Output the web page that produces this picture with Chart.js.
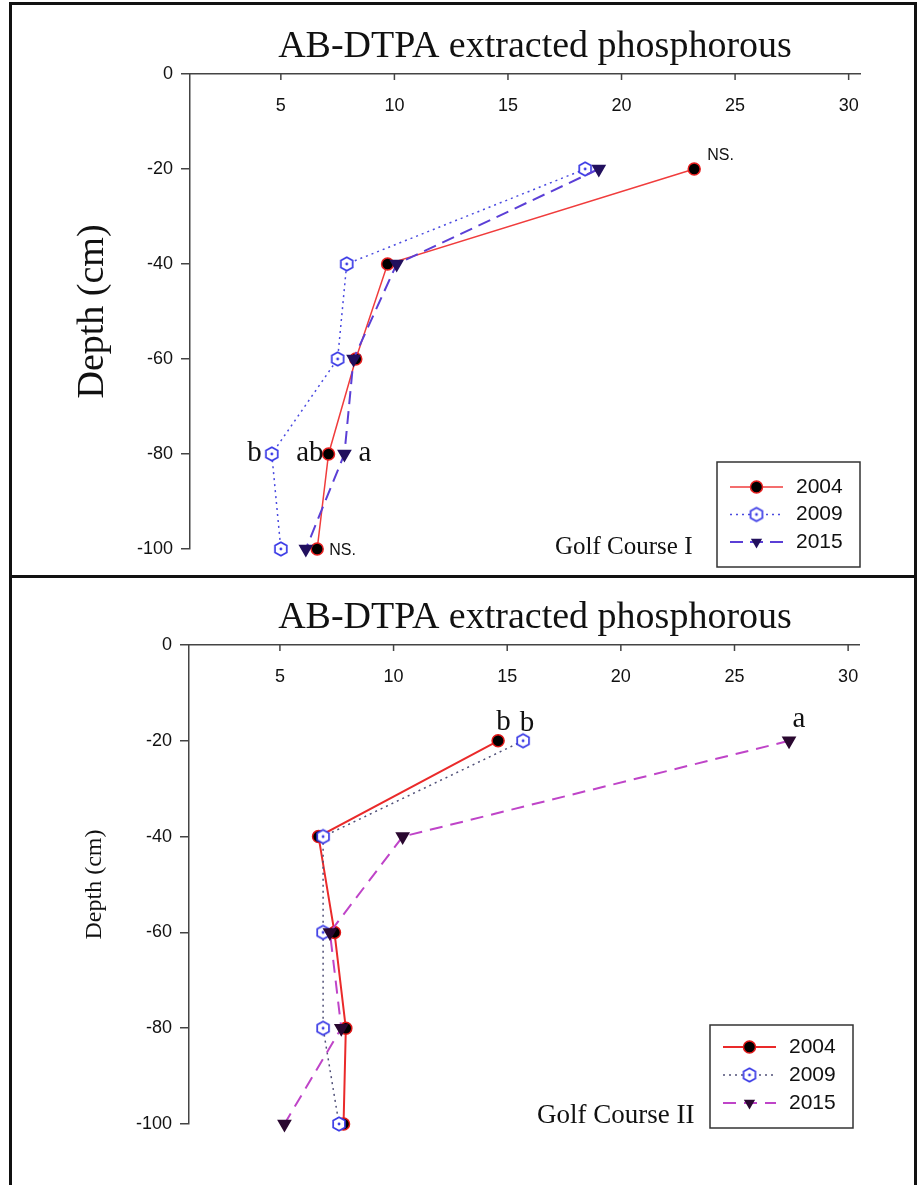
<!DOCTYPE html>
<html>
<head>
<meta charset="utf-8">
<script src="https://cdn.jsdelivr.net/npm/chart.js@4.4.1/dist/chart.umd.min.js"></script>
<style>
  body { margin: 0; background: #fff; }
  #page { position: relative; width: 917px; height: 1185px; overflow: hidden; background: #fff; }
  canvas { position: absolute; left: 0; }
  #c1 { top: 0; }
  #c2 { top: 579px; }
  .frame { position: absolute; left: 9px; top: 2px; width: 902px; height: 1200px; border: 3px solid #111; border-bottom: none; }
  .sep { position: absolute; left: 9px; top: 575px; width: 908px; height: 3px; background: #111; }
</style>
</head>
<body>
<div id="page">
  <canvas id="c1" width="917" height="576"></canvas>
  <canvas id="c2" width="917" height="606"></canvas>
  <div class="frame"></div>
  <div class="sep"></div>
</div>
<script>
// depth of each sampling layer (cm) and the axis ticks
const depths = [-20, -40, -60, -80, -100];
const years = ['2004', '2009', '2015'];
const xTicks = [5, 10, 15, 20, 25, 30];
const yTicks = [0, -20, -40, -60, -80, -100];

// Golf Course I - AB-DTPA P
const gc1_2004 = [23.2, 9.7, 8.3, 7.1, 6.6];
const gc1_2009 = [18.4, 7.9, 7.5, 4.6, 5.0];
const gc1_2015 = [19.0, 10.1, 8.2, 7.8, 6.1];

// Golf Course II - AB-DTPA P
const gc2_2004 = [14.6, 6.7, 7.4, 7.9, 7.8];
const gc2_2009 = [15.7, 6.9, 6.9, 6.9, 7.6];
const gc2_2015 = [27.4, 10.4, 7.2, 7.7, 5.2];

const SERIF = '"Liberation Serif", "Times New Roman", serif';
const SANS = '"Liberation Sans", Arial, sans-serif';
Chart.defaults.font.family = SANS;
Chart.defaults.color = '#111';

function hexMarker(color) {
  const c = document.createElement('canvas');
  c.width = 18; c.height = 18;
  const g = c.getContext('2d');
  g.beginPath();
  for (let i = 0; i < 6; i++) {
    const a = Math.PI / 3 * i - Math.PI / 2;
    const px = 9 + 6.8 * Math.cos(a), py = 9 + 6.8 * Math.sin(a);
    if (i) g.lineTo(px, py); else g.moveTo(px, py);
  }
  g.closePath();
  g.fillStyle = '#fff'; g.fill();
  g.lineWidth = 1.7; g.strokeStyle = color; g.stroke();
  g.beginPath(); g.arc(9, 9, 1.4, 0, Math.PI * 2); g.fillStyle = color; g.fill();
  return c;
}

function series(values, label, style) {
  return Object.assign({
    label: label,
    data: values.map((v, i) => ({ x: v, y: depths[i] })),
    showLine: true, fill: false, tension: 0, clip: false
  }, style);
}

// x ticks sit inside the plot, under the top axis line
const topTicks = {
  id: 'topTicks',
  afterDraw(chart) {
    const s = chart.scales.x, ctx = chart.ctx, top = chart.chartArea.top;
    ctx.save();
    ctx.strokeStyle = '#444'; ctx.lineWidth = 1.5;
    ctx.fillStyle = '#111'; ctx.font = '18px ' + SANS;
    ctx.textAlign = 'center'; ctx.textBaseline = 'middle';
    s.ticks.forEach(t => {
      const px = s.getPixelForValue(t.value);
      ctx.beginPath(); ctx.moveTo(px, top); ctx.lineTo(px, top + 6); ctx.stroke();
      ctx.fillText(String(t.value), px, top + 32);
    });
    ctx.restore();
  }
};

// title, caption, significance letters and the boxed legend
const decor = {
  id: 'decor',
  afterDraw(chart, args, o) {
    const ctx = chart.ctx;
    ctx.save();
    ctx.fillStyle = '#111';
    ctx.font = '38px ' + SERIF;
    ctx.textAlign = 'center'; ctx.textBaseline = 'middle';
    ctx.fillText(o.title, o.titleX, o.titleY);

    ctx.font = o.captionFont;
    ctx.textAlign = 'left'; ctx.textBaseline = 'alphabetic';
    ctx.fillText(o.caption, o.captionX, o.captionY);

    o.notes.forEach(n => {
      const el = chart.getDatasetMeta(n.ds).data[n.idx];
      ctx.font = n.font;
      ctx.textAlign = n.align;
      ctx.fillText(n.text, el.x + n.dx, el.y + n.dy);
    });

    const L = o.legend;
    ctx.lineWidth = 1.5; ctx.strokeStyle = '#333';
    ctx.strokeRect(L.x, L.y, L.w, L.h);
    ctx.font = '21px ' + SANS;
    ctx.textBaseline = 'middle'; ctx.textAlign = 'left';
    chart.data.datasets.forEach((d, i) => {
      const y = L.y + L.first + i * L.step;
      const x0 = L.x + 13, x1 = L.x + 66, xm = (x0 + x1) / 2;
      ctx.save();
      ctx.strokeStyle = d.borderColor; ctx.lineWidth = d.borderWidth;
      ctx.setLineDash(d.borderDash || []);
      ctx.beginPath(); ctx.moveTo(x0, y); ctx.lineTo(x1, y); ctx.stroke();
      ctx.restore();
      const ps = d.pointStyle;
      if (ps instanceof HTMLCanvasElement) {
        ctx.drawImage(ps, xm - ps.width / 2, y - ps.height / 2);
      } else if (ps === 'triangle') {
        const r = d.pointRadius;
        ctx.beginPath();
        ctx.moveTo(xm, y + r);
        ctx.lineTo(xm - r * 0.866, y - r * 0.5);
        ctx.lineTo(xm + r * 0.866, y - r * 0.5);
        ctx.closePath();
        ctx.fillStyle = d.pointBackgroundColor; ctx.fill();
      } else {
        ctx.beginPath(); ctx.arc(xm, y, d.pointRadius, 0, Math.PI * 2);
        ctx.fillStyle = d.pointBackgroundColor; ctx.fill();
        ctx.lineWidth = d.pointBorderWidth; ctx.strokeStyle = d.pointBorderColor; ctx.stroke();
      }
      ctx.fillStyle = '#111';
      ctx.fillText(d.label, L.x + 79, y);
    });
    ctx.restore();
  }
};

function scales(yWidth, yTitleSize, yTitlePad) {
  return {
    x: {
      type: 'linear', position: 'top', min: 1, max: 30.5,
      afterBuildTicks: s => { s.ticks = xTicks.map(v => ({ value: v })); },
      afterFit: s => { s.height = 10; },
      ticks: { display: false },
      grid: { display: false },
      border: { display: true, color: '#444', width: 1.5 }
    },
    y: {
      type: 'linear', position: 'left', min: -100, max: 0,
      afterBuildTicks: s => { s.ticks = yTicks.map(v => ({ value: v })); },
      afterFit: s => { s.width = yWidth; },
      ticks: { font: { size: 18 }, color: '#111', padding: 8 },
      grid: { display: true, drawOnChartArea: false, drawTicks: true, tickLength: 9, color: '#444', lineWidth: 1.5 },
      border: { display: true, color: '#444', width: 1.5 },
      title: { display: true, text: 'Depth (cm)', color: '#111',
               font: { family: SERIF, size: yTitleSize }, padding: { top: yTitlePad, bottom: 0 } }
    }
  };
}

const nsFont = '16px ' + SANS;
const letterFont = '29px ' + SERIF;

new Chart(document.getElementById('c1'), {
  type: 'scatter',
  data: {
    datasets: [
      series(gc1_2004, years[0], { borderColor: '#f03c3c', borderWidth: 1.5, pointStyle: 'circle', pointRadius: 6,
        pointBackgroundColor: '#000', pointBorderColor: '#e82020', pointBorderWidth: 1.5, order: 2 }),
      series(gc1_2009, years[1], { borderColor: '#4a4ae0', borderWidth: 1.5, borderDash: [2, 4],
        pointStyle: hexMarker('#3a3ae6'), pointRadius: 7, order: 1 }),
      series(gc1_2015, years[2], { borderColor: '#5b3fd6', borderWidth: 2, borderDash: [13, 7], pointStyle: 'triangle',
        pointRotation: 180, pointRadius: 6.5, pointBackgroundColor: '#22105e', pointBorderColor: '#22105e', order: 0 })
    ]
  },
  options: {
    responsive: false, animation: false,
    layout: { padding: { left: 0, right: 57, top: 64, bottom: 27 } },
    scales: scales(190, 38, 70),
    plugins: {
      legend: { display: false }, tooltip: { enabled: false },
      decor: {
        title: 'AB-DTPA extracted phosphorous', titleX: 535, titleY: 47,
        caption: 'Golf Course I', captionX: 555, captionY: 554, captionFont: '25px ' + SERIF,
        legend: { x: 717, y: 462, w: 143, h: 105, first: 25, step: 27.5 },
        notes: [
          { text: 'NS.', ds: 0, idx: 0, dx: 13, dy: -9, align: 'left', font: nsFont },
          { text: 'b', ds: 1, idx: 3, dx: -10, dy: 7, align: 'right', font: letterFont },
          { text: 'ab', ds: 0, idx: 3, dx: -5, dy: 7, align: 'right', font: letterFont },
          { text: 'a', ds: 2, idx: 3, dx: 14, dy: 7, align: 'left', font: letterFont },
          { text: 'NS.', ds: 0, idx: 4, dx: 12, dy: 6, align: 'left', font: nsFont }
        ]
      }
    }
  },
  plugins: [topTicks, decor]
});

new Chart(document.getElementById('c2'), {
  type: 'scatter',
  data: {
    datasets: [
      series(gc2_2004, years[0], { borderColor: '#ea2a2a', borderWidth: 2, pointStyle: 'circle', pointRadius: 6,
        pointBackgroundColor: '#000', pointBorderColor: '#e01818', pointBorderWidth: 1.5, order: 2 }),
      series(gc2_2009, years[1], { borderColor: '#505078', borderWidth: 1.5, borderDash: [2, 4],
        pointStyle: hexMarker('#3a3ae6'), pointRadius: 7, order: 1 }),
      series(gc2_2015, years[2], { borderColor: '#bf44c8', borderWidth: 2, borderDash: [13, 8], pointStyle: 'triangle',
        pointRotation: 180, pointRadius: 6.5, pointBackgroundColor: '#2a0830', pointBorderColor: '#2a0830', order: 0 })
    ]
  },
  options: {
    responsive: false, animation: false,
    layout: { padding: { left: 0, right: 57.5, top: 56, bottom: 61 } },
    scales: scales(189, 24, 80),
    plugins: {
      legend: { display: false }, tooltip: { enabled: false },
      decor: {
        title: 'AB-DTPA extracted phosphorous', titleX: 535, titleY: 39,
        caption: 'Golf Course II', captionX: 537, captionY: 544, captionFont: '27px ' + SERIF,
        legend: { x: 710, y: 446, w: 143, h: 103, first: 22, step: 28 },
        notes: [
          { text: 'b', ds: 0, idx: 0, dx: 5.5, dy: -10.5, align: 'center', font: letterFont },
          { text: 'b', ds: 1, idx: 0, dx: 4, dy: -10, align: 'center', font: letterFont },
          { text: 'a', ds: 2, idx: 0, dx: 10, dy: -14, align: 'center', font: letterFont }
        ]
      }
    }
  },
  plugins: [topTicks, decor]
});
</script>
</body>
</html>
